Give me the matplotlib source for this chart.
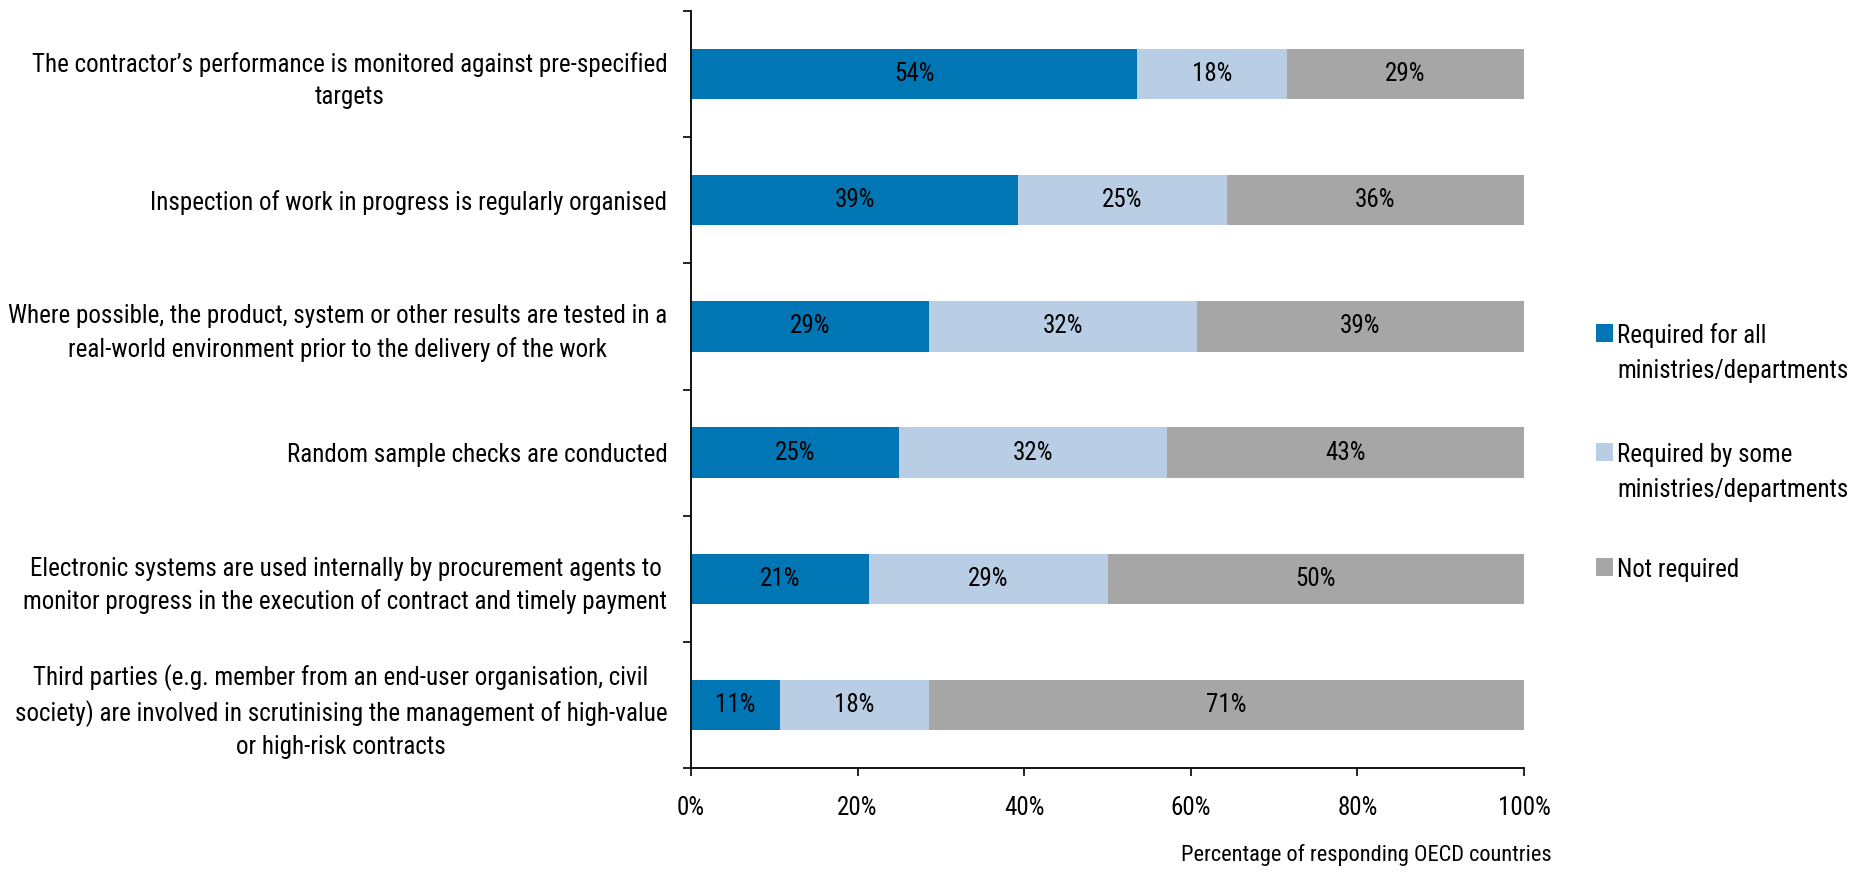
import os
import matplotlib
matplotlib.use("Agg")
import matplotlib.pyplot as plt
import matplotlib.font_manager as fm
from matplotlib.patches import Rectangle
import numpy as np

categories = [
    "The contractor\u2019s performance is monitored against pre-specified\ntargets",
    "Inspection of work in progress is regularly organised",
    "Where possible, the product, system or other results are tested in a\nreal-world environment prior to the delivery of the work",
    "Random sample checks are conducted",
    "Electronic systems are used internally by procurement agents to\nmonitor progress in the execution of contract and timely payment",
    "Third parties (e.g. member from an end-user organisation, civil\nsociety) are involved in scrutinising the management of high-value\nor high-risk contracts",
]
required_all = [53.6, 39.3, 28.6, 25.0, 21.4, 10.7]
required_some = [17.9, 25.0, 32.1, 32.1, 28.6, 17.9]
not_required = [28.6, 35.7, 39.3, 42.9, 50.0, 71.4]
series_names = ["Required for all\nministries/departments",
                "Required by some\nministries/departments",
                "Not required"]
colors = ["#0077B4", "#B9CDE5", "#A6A6A6"]
xticks = [0, 20, 40, 60, 80, 100]
xlabel = "Percentage of responding OECD countries"


def pick_font_file():
    bad = ('bold', 'italic', 'oblique', 'light', 'medium', 'semi', 'extra',
           'thin', 'black', 'heavy', 'mono')
    prefs = ['liberationsansnarrow', 'robotocondensed', 'opensanscondensed',
             'opensans_condensed', 'notosanscondensed', 'notosans-condensed',
             'latocondensed', 'dejavusanscondensed']
    found = {}
    for f in fm.fontManager.ttflist:
        base = os.path.basename(f.fname).lower()
        key = base.replace(' ', '').replace('_', '')
        if ('narrow' in key or 'condensed' in key) and not any(b in key.split('condensed')[-1].split('narrow')[-1] for b in bad):
            for p in prefs:
                if p.replace('_', '') in key.replace('-', '') or p in base:
                    found.setdefault(p, f.fname)
    for p in prefs:
        if p in found:
            return found[p]
    return None


font_file = pick_font_file()


def fp(size):
    if font_file:
        return fm.FontProperties(fname=font_file, size=size)
    return fm.FontProperties(family=['Liberation Sans', 'DejaVu Sans'], size=size)


W, H = 1862, 873
fig = plt.figure(figsize=(W / 100, H / 100), dpi=100)
renderer = fig.canvas.get_renderer()


def fit_size(s, target_px):
    t = fig.text(0, 0, s, fontproperties=fp(20))
    w = t.get_window_extent(renderer).width
    t.remove()
    return 20 * target_px / w


cat_size = fit_size("Inspection of work in progress is regularly organised", 515)
leg_size = fit_size("ministries/departments", 230)
xl_size = fit_size(xlabel, 370)

ax = fig.add_axes([691 / W, 1 - 768 / H, (1524 - 691) / W, (768 - 11) / H])

n = len(categories)
y = np.arange(n)
left = np.zeros(n)
for vals, col in zip([required_all, required_some, not_required], colors):
    vals = np.array(vals)
    bars = ax.barh(y, vals, left=left, height=0.4, color=col, edgecolor='none')
    for t in ax.bar_label(bars, labels=[f"{v:.0f}%" for v in vals],
                          label_type='center', color='black'):
        t.set_fontproperties(fp(cat_size))
    left = left + vals

ax.set_ylim(n - 0.5, -0.5)
ax.set_xlim(0, 100)
ax.set_yticks(y)
ax.set_yticklabels(categories, multialignment='center', linespacing=1.42)
for t in ax.get_yticklabels():
    t.set_fontproperties(fp(cat_size))
ax.tick_params(axis='y', which='major', length=0, pad=17)
ax.set_yticks(np.arange(-0.5, n + 0.5, 1), minor=True)
ax.tick_params(axis='y', which='minor', length=6, width=1.2, direction='out')
ax.set_xticks(xticks)
ax.set_xticklabels([f"{t}%" for t in xticks])
for t in ax.get_xticklabels():
    t.set_fontproperties(fp(cat_size))
ax.tick_params(axis='x', length=6, width=1.2, direction='out', pad=14)

for s in ['top', 'right']:
    ax.spines[s].set_visible(False)
for s in ['left', 'bottom']:
    ax.spines[s].set_linewidth(1.3)
    ax.spines[s].set_color('black')

fig.text(1552 / W, 1 - 855 / H, xlabel, ha='right', va='center',
         fontproperties=fp(xl_size))

# legend drawn manually (symbol aligned with first text line)
leg_y = [333, 452, 567]
line_gap = 35
for name, col, ly in zip(series_names, colors, leg_y):
    fig.add_artist(Rectangle((1596 / W, 1 - (ly + 9) / H), 17 / W, 18 / H,
                             transform=fig.transFigure, facecolor=col, edgecolor='none'))
    for k, line in enumerate(name.split('\n')):
        fig.text(1617 / W, 1 - (ly + k * line_gap) / H, line, ha='left',
                 va='center_baseline', fontproperties=fp(leg_size))

fig.savefig("out.png", dpi=100)
